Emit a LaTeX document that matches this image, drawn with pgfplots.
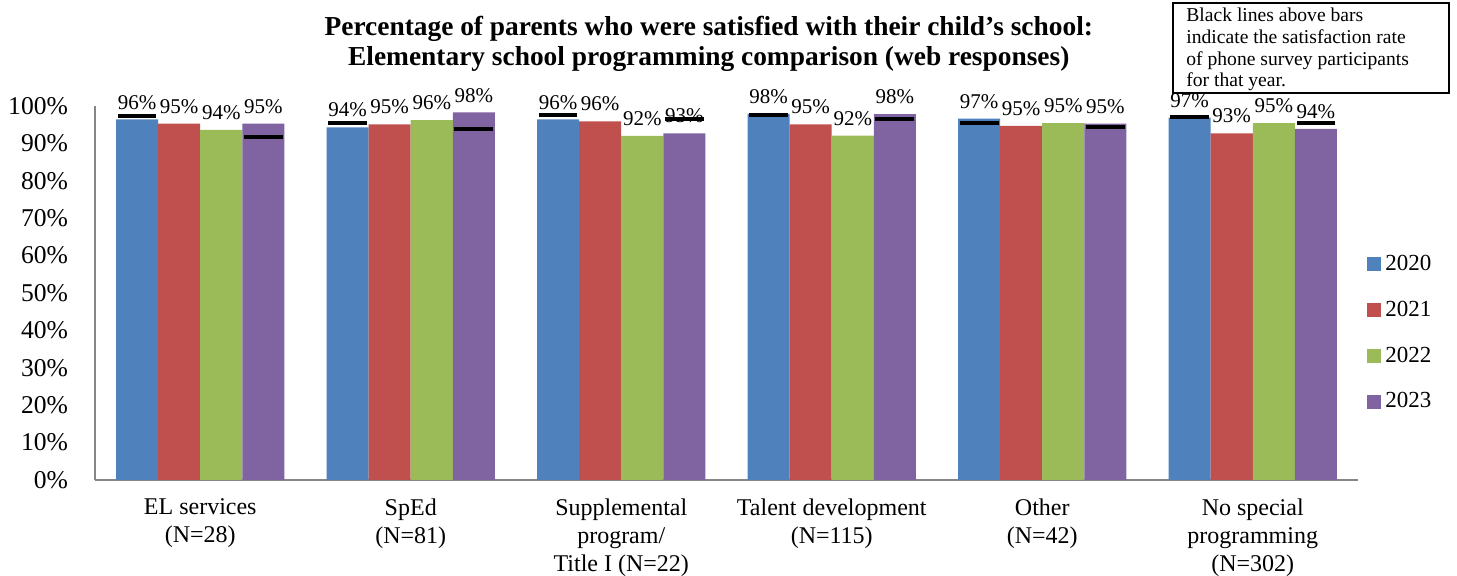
\documentclass[border=0pt]{standalone}
\usepackage{fontspec}
\setmainfont{Liberation Serif}
\usepackage{pgfplots}
\pgfplotsset{compat=1.18}
\usepackage{pgfplotstable}
\definecolor{cA}{HTML}{4F81BD}
\definecolor{cB}{HTML}{C0504D}
\definecolor{cC}{HTML}{9BBB59}
\definecolor{cD}{HTML}{8064A2}
\definecolor{axgray}{HTML}{868686}

\pgfplotstableread{
x y
0 96.4
1 94.3
2 96.4
3 97.9
4 96.6
5 96.9
}\tA
\pgfplotstableread{
x y
0 95.3
1 95.1
2 95.9
3 95.1
4 94.7
5 92.7
}\tB
\pgfplotstableread{
x y
0 93.6
1 96.2
2 92.0
3 92.1
4 95.4
5 95.4
}\tC
\pgfplotstableread{
x y
0 95.3
1 98.3
2 92.7
3 97.8
4 95.3
5 93.9
}\tD
% phone survey lines (2020 and 2023)
\pgfplotstableread{
x y
-0.3 97.4
0.7 95.5
1.7 97.7
2.7 97.6
3.7 95.4
4.7 97.1
}\pA
\pgfplotstableread{
x y
0.3 91.8
1.3 93.8
2.3 96.4
3.3 96.4
4.3 94.4
5.3 95.5
}\pD

\begin{document}
\begin{tikzpicture}
\path[use as bounding box] (-47.5pt,-48pt) rectangle (681pt,240pt);
\begin{axis}[
  at={(0,0)}, anchor=south west,
  scale only axis, width=631.5pt, height=187pt,
  xmin=-0.5, xmax=5.5, ymin=0, ymax=100,
  clip=false,
  axis lines*=left,
  axis line style={draw=axgray, line width=0.8pt, -},
  major tick length=0pt,
  /pgf/number format/assume math mode=true,
  xtick={0,...,5},
  xticklabels={{EL services\\(N=28)},{SpEd\\(N=81)},{Supplemental\\program/\\Title I (N=22)},{Talent development\\(N=115)},{Other\\(N=42)},{No special\\programming\\(N=302)}},
  xticklabel style={align=center, font=\fontsize{12}{14}\selectfont, yshift=-6pt},
  ytick={0,10,...,100},
  yticklabel={\pgfmathprintnumber{\tick}\%},
  yticklabel style={font=\fontsize{12.8}{14}\selectfont, xshift=-10pt},
  title={Percentage of parents who were satisfied with their child\symbol{39}s school:\\Elementary school programming comparison (web responses)},
  title style={at={(0.486,1)}, anchor=center, yshift=25pt, align=center, font=\bfseries\fontsize{13.7}{15}\selectfont},
  legend style={at={(1,0.393)}, anchor=west, xshift=4.5pt, draw=none, fill=none,
    font=\fontsize{11.5}{13}\selectfont, row sep=9.8pt, inner sep=0pt},
  legend cell align=left,
  legend image code/.code={\fill[#1] (0pt,-3.5pt) rectangle (7pt,3.5pt);},
  nodes near coords={\pgfmathprintnumber[fixed,precision=0]{\pgfplotspointmeta}\%},
  every node near coord/.append style={font=\fontsize{10.5}{12}\selectfont, yshift=1.5pt},
]
\addplot[ybar, bar width=0.2, bar shift=0, fill=cA, draw=none] table[x expr=\thisrow{x}-0.3,y=y]{\tA};
\addlegendentry{2020}
\addplot[ybar, bar width=0.2, bar shift=0, fill=cB, draw=none] table[x expr=\thisrow{x}-0.1,y=y]{\tB};
\addlegendentry{2021}
\addplot[ybar, bar width=0.2, bar shift=0, fill=cC, draw=none] table[x expr=\thisrow{x}+0.1,y=y]{\tC};
\addlegendentry{2022}
\addplot[ybar, bar width=0.2, bar shift=0, fill=cD, draw=none] table[x expr=\thisrow{x}+0.3,y=y]{\tD};
\addlegendentry{2023}
\addplot[forget plot, only marks, mark=-, mark size=9.7pt, line width=2pt, black, nodes near coords=] table[x=x,y=y]{\pA};
\addplot[forget plot, only marks, mark=-, mark size=9.7pt, line width=2pt, black, nodes near coords=] table[x=x,y=y]{\pD};
\end{axis}
\draw[line width=0.9pt] (539pt,193.5pt) rectangle (677pt,238.5pt);
\node[anchor=north west, align=left, inner sep=0pt, font=\fontsize{9.8}{10.8}\selectfont] at (545.5pt,236pt)
  {Black lines above bars\\indicate the satisfaction rate\\of phone survey participants\\for that year.};
\end{tikzpicture}
\end{document}
